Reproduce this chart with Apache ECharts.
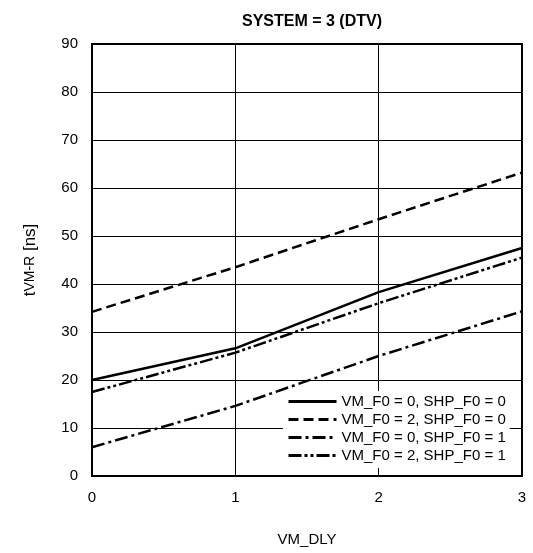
<!DOCTYPE html>
<html><head><meta charset="utf-8">
<script src="https://cdn.jsdelivr.net/npm/echarts@6/dist/echarts.min.js"></script>
<style>html,body{margin:0;padding:0;background:#fff}#c{width:533px;height:553px}</style>
</head><body><div id="c"></div>
<script>
const xValues = [0, 1, 2, 3];
const seriesNames = ['VM_F0 = 0, SHP_F0 = 0', 'VM_F0 = 2, SHP_F0 = 0', 'VM_F0 = 0, SHP_F0 = 1', 'VM_F0 = 2, SHP_F0 = 1'];
const s00 = [20.0, 26.6, 38.3, 47.5];
const s20 = [34.2, 43.5, 53.5, 63.2];
const s01 = [6.0, 14.6, 25.0, 34.3];
const s21 = [17.5, 25.7, 36.0, 45.5];
const dashes = ['solid', [10, 5], [13, 4, 3, 4], [13, 3, 3, 3, 3, 3]];
const allData = [s00, s20, s01, s21];

const chart = echarts.init(document.getElementById('c'), null, {renderer: 'canvas'});
const font = 'Liberation Sans, Arial, sans-serif';
chart.setOption({
  animation: false,
  title: {text: 'SYSTEM = 3 (DTV)', left: 307, top: 9, textAlign: 'center',
    textStyle: {fontFamily: font, fontSize: 16, fontWeight: 'bold', color: '#000'}},
  grid: {left: 92, right: 11, top: 44, bottom: 77, show: true, borderColor: '#000', borderWidth: 2},
  legend: {
    orient: 'vertical', left: 283, top: 391, itemWidth: 48, itemHeight: 14, itemGap: 3,
    backgroundColor: '#fff', padding: [3, 4, 5, 4],
    itemStyle: {opacity: 0},
    lineStyle: {width: 3},
    textStyle: {fontFamily: font, fontSize: 15, color: '#000'},
    data: seriesNames
  },
  xAxis: {
    type: 'value', min: 0, max: 3, interval: 1,
    name: 'VM_DLY', nameLocation: 'middle', nameGap: 56,
    nameTextStyle: {fontFamily: font, fontSize: 15, color: '#000'},
    axisLine: {show: false}, axisTick: {show: false},
    axisLabel: {fontFamily: font, fontSize: 15, color: '#000', margin: 14},
    splitLine: {show: true, lineStyle: {color: '#000', width: 1}}
  },
  yAxis: {
    type: 'value', min: 0, max: 90, interval: 10,
    name: '{a|t}{b|VM-R}{a| [ns]}', nameLocation: 'middle', nameGap: 53,
    nameTextStyle: {rich: {a: {fontFamily: font, fontSize: 17, color: '#000'}, b: {fontFamily: font, fontSize: 14, color: '#000'}}},
    axisLine: {show: false}, axisTick: {show: false},
    axisLabel: {fontFamily: font, fontSize: 15, color: '#000', margin: 14},
    splitLine: {show: true, lineStyle: {color: '#000', width: 1}}
  },
  series: seriesNames.map((n, i) => ({
    name: n, type: 'line', symbol: 'none',
    data: xValues.map((x, j) => [x, allData[i][j]]),
    lineStyle: {color: '#000', width: 2.5, type: dashes[i]},
    itemStyle: {color: '#000'}
  }))
});
</script></body></html>
